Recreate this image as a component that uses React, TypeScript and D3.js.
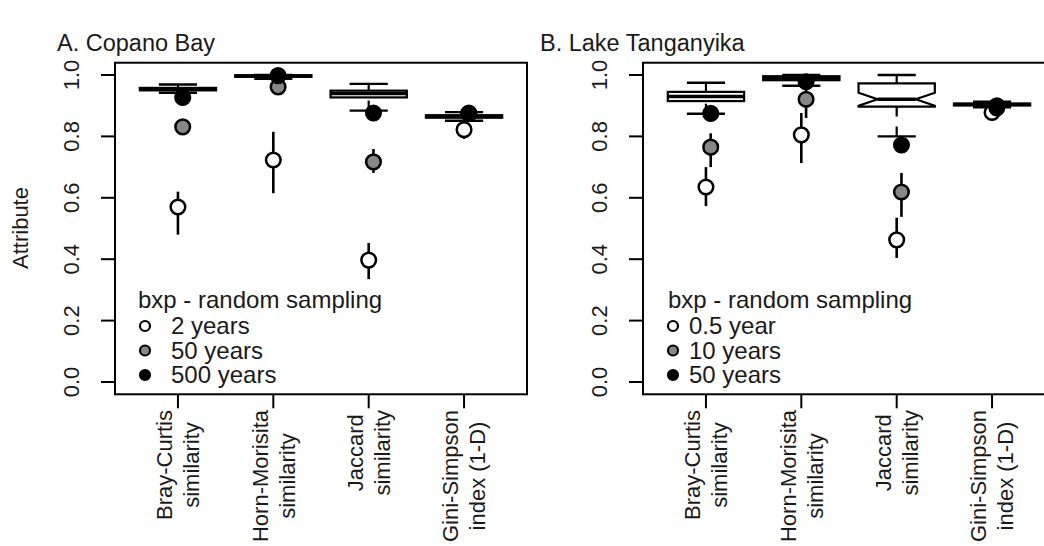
import React, { useEffect, useRef } from "react";
import * as d3 from "d3";

// ---------- data ----------
const categoryLine1 = ["Bray-Curtis", "Horn-Morisita", "Jaccard", "Gini-Simpson"];
const categoryLine2 = ["similarity", "similarity", "similarity", "index (1-D)"];
const yTicks = [0, 0.2, 0.4, 0.6, 0.8, 1.0];
const legendTitle = "bxp - random sampling";
const legendLabelsA = ["2 years", "50 years", "500 years"];
const legendLabelsB = ["0.5 year", "10 years", "50 years"];
const titleA = "A. Copano Bay";
const titleB = "B. Lake Tanganyika";
const yAxisTitle = "Attribute";

// Panel A boxplots (random sampling)
const boxA_lo = [0.942, 0.988, 0.884, 0.851];
const boxA_q1 = [0.950, 0.994, 0.927, 0.861];
const boxA_med = [0.954, 0.997, 0.940, 0.865];
const boxA_q3 = [0.958, 0.999, 0.949, 0.869];
const boxA_hi = [0.969, 1.0, 0.971, 0.879];
const boxA_notch = [0, 0, 0, 0];

// Panel B boxplots
const boxB_lo = [0.874, 0.965, 0.800, 0.895];
const boxB_q1 = [0.915, 0.983, 0.897, 0.901];
const boxB_med = [0.930, 0.990, 0.921, 0.904];
const boxB_q3 = [0.945, 0.996, 0.973, 0.907];
const boxB_hi = [0.975, 1.0, 1.0, 0.913];
const boxB_notch = [0, 0, 0.021, 0];

// Panel A time-averaged points (mean, lower, upper)
const whiteA = [0.570, 0.723, 0.397, 0.822];
const whiteA_lo = [0.480, 0.615, 0.335, 0.792];
const whiteA_hi = [0.620, 0.815, 0.453, 0.850];
const grayA = [0.831, 0.961, 0.717, 0.874];
const grayA_lo = [0.825, 0.955, 0.681, 0.869];
const grayA_hi = [0.838, 0.967, 0.759, 0.879];
const blackA = [0.927, 0.998, 0.876, 0.876];
const blackA_lo = [0.922, 0.995, 0.868, 0.872];
const blackA_hi = [0.932, 1.0, 0.884, 0.880];

// Panel B points
const whiteB = [0.635, 0.805, 0.463, 0.878];
const whiteB_lo = [0.573, 0.713, 0.404, 0.868];
const whiteB_hi = [0.700, 0.876, 0.535, 0.889];
const grayB = [0.765, 0.921, 0.619, 0.893];
const grayB_lo = [0.700, 0.860, 0.538, 0.888];
const grayB_hi = [0.810, 0.965, 0.681, 0.898];
const blackB = [0.875, 0.978, 0.772, 0.900];
const blackB_lo = [0.870, 0.972, 0.765, 0.896];
const blackB_hi = [0.880, 0.985, 0.780, 0.904];

const seriesFills = ["#ffffff", "#878787", "#000000"];
const seriesOffsets = [0, 0.05, 0.05];

const FONT = "'Liberation Sans', Arial, Helvetica, sans-serif";

export default function App() {
  const ref = useRef<SVGSVGElement | null>(null);

  useEffect(() => {
    const svg = d3.select(ref.current);
    svg.selectAll("*").remove();

    const panels = [
      {
        left: 115, title: titleA, titleX: 57, legendLabels: legendLabelsA,
        legTitleX: 138, legPtX: 145, legTextX: 171,
        box: [boxA_lo, boxA_q1, boxA_med, boxA_q3, boxA_hi, boxA_notch],
        series: [
          [whiteA, whiteA_lo, whiteA_hi],
          [grayA, grayA_lo, grayA_hi],
          [blackA, blackA_lo, blackA_hi],
        ],
        yTitle: true,
      },
      {
        left: 643, title: titleB, titleX: 540, legendLabels: legendLabelsB,
        legTitleX: 668, legPtX: 673, legTextX: 689,
        box: [boxB_lo, boxB_q1, boxB_med, boxB_q3, boxB_hi, boxB_notch],
        series: [
          [whiteB, whiteB_lo, whiteB_hi],
          [grayB, grayB_lo, grayB_hi],
          [blackB, blackB_lo, blackB_hi],
        ],
        yTitle: false,
      },
    ];

    const y = d3.scaleLinear().domain([0, 1]).range([382, 75]);
    const yTop = y(1.04);
    const yBot = y(-0.04);

    panels.forEach((p) => {
      const x = d3.scaleLinear().domain([0.34, 4.66]).range([p.left, p.left + 412]);
      const g = svg.append("g");

      // title
      g.append("text").attr("x", p.titleX).attr("y", 51).attr("font-size", 23.5)
        .attr("font-family", FONT).attr("fill", "#1a1a1a").text(p.title);

      // boxplots
      const [lo, q1, med, q3, hi, notch] = p.box;
      categoryLine1.forEach((_, i) => {
        const cx = x(i + 1);
        const hw = x(1.4) - x(1);
        const sw = x(1.2) - x(1);
        [[lo[i], q1[i]], [hi[i], q3[i]]].forEach(([a, b]) => {
          g.append("line").attr("x1", cx).attr("x2", cx).attr("y1", y(a)).attr("y2", y(b))
            .attr("stroke", "#000").attr("stroke-width", 2.2).attr("stroke-dasharray", "10,10");
        });
        [lo[i], hi[i]].forEach((v) => {
          g.append("line").attr("x1", cx - sw).attr("x2", cx + sw).attr("y1", y(v)).attr("y2", y(v))
            .attr("stroke", "#000").attr("stroke-width", 2.4);
        });
        if (notch[i] > 0) {
          const n = notch[i];
          const pts: [number, number][] = [
            [cx - hw, y(q1[i])], [cx - hw, y(med[i] - n)], [cx - hw * 0.5, y(med[i])],
            [cx - hw, y(med[i] + n)], [cx - hw, y(q3[i])], [cx + hw, y(q3[i])],
            [cx + hw, y(med[i] + n)], [cx + hw * 0.5, y(med[i])], [cx + hw, y(med[i] - n)],
            [cx + hw, y(q1[i])],
          ];
          g.append("polygon").attr("points", pts.map((d) => d.join(",")).join(" "))
            .attr("fill", "#fff").attr("stroke", "#000").attr("stroke-width", 2.2);
          g.append("line").attr("x1", cx - hw * 0.5).attr("x2", cx + hw * 0.5)
            .attr("y1", y(med[i])).attr("y2", y(med[i])).attr("stroke", "#000").attr("stroke-width", 3.5);
        } else {
          g.append("rect").attr("x", cx - hw).attr("width", 2 * hw)
            .attr("y", y(q3[i])).attr("height", Math.max(0.5, y(q1[i]) - y(q3[i])))
            .attr("fill", "#fff").attr("stroke", "#000").attr("stroke-width", 2.2);
          g.append("line").attr("x1", cx - hw).attr("x2", cx + hw)
            .attr("y1", y(med[i])).attr("y2", y(med[i])).attr("stroke", "#000").attr("stroke-width", 3.5);
        }
      });

      // points with error bars
      p.series.forEach(([m, l, h], s) => {
        categoryLine1.forEach((_, i) => {
          const cx = x(i + 1 + seriesOffsets[s]);
          g.append("line").attr("x1", cx).attr("x2", cx).attr("y1", y(l[i])).attr("y2", y(h[i]))
            .attr("stroke", "#000").attr("stroke-width", 2.6);
          g.append("circle").attr("cx", cx).attr("cy", y(m[i])).attr("r", 7.3)
            .attr("fill", seriesFills[s]).attr("stroke", "#000").attr("stroke-width", 2.5);
        });
      });

      // frame
      g.append("rect").attr("x", x(0.34)).attr("y", yTop).attr("width", x(4.66) - x(0.34))
        .attr("height", yBot - yTop).attr("fill", "none").attr("stroke", "#000").attr("stroke-width", 2);

      // y axis
      yTicks.forEach((t) => {
        g.append("line").attr("x1", p.left - 14).attr("x2", p.left).attr("y1", y(t)).attr("y2", y(t))
          .attr("stroke", "#000").attr("stroke-width", 2);
        g.append("text").attr("transform", `translate(${p.left - 44},${y(t)}) rotate(-90)`)
          .attr("text-anchor", "middle").attr("dy", "0.36em").attr("font-size", 22)
          .attr("font-family", FONT).attr("fill", "#1a1a1a").text(t.toFixed(1));
      });

      // x axis ticks & labels
      categoryLine1.forEach((l1, i) => {
        const cx = x(i + 1);
        g.append("line").attr("x1", cx).attr("x2", cx).attr("y1", yBot).attr("y2", yBot + 14)
          .attr("stroke", "#000").attr("stroke-width", 2);
        const lines = [l1, categoryLine2[i]];
        const nodes = lines.map((t) =>
          g.append("text").attr("font-size", 22).attr("font-family", FONT).attr("fill", "#1a1a1a")
            .attr("text-anchor", "middle").attr("dy", "0.36em").text(t)
        );
        const widths = nodes.map((n) => (n.node() as SVGTextElement).getComputedTextLength());
        const W = Math.max(...widths);
        const cy = 410 + W / 2;
        nodes.forEach((n, k) => {
          const lx = cx + (k === 0 ? -13.5 : 13.5);
          n.attr("transform", `translate(${lx},${cy}) rotate(-90)`);
        });
      });

      // y title
      if (p.yTitle) {
        g.append("text").attr("transform", `translate(20,228) rotate(-90)`).attr("text-anchor", "middle")
          .attr("dy", "0.36em").attr("font-size", 22).attr("font-family", FONT).attr("fill", "#1a1a1a")
          .text(yAxisTitle);
      }

      // legend
      g.append("text").attr("x", p.legTitleX).attr("y", 308).attr("font-size", 24)
        .attr("font-family", FONT).attr("fill", "#1a1a1a").text(legendTitle);
      const rowBase = [334, 358.5, 383];
      p.legendLabels.forEach((lab, k) => {
        g.append("circle").attr("cx", p.legPtX).attr("cy", rowBase[k] - 8).attr("r", 5)
          .attr("fill", seriesFills[k]).attr("stroke", "#000").attr("stroke-width", 2.2);
        g.append("text").attr("x", p.legTextX).attr("y", rowBase[k]).attr("font-size", 24)
          .attr("font-family", FONT).attr("fill", "#1a1a1a").text(lab);
      });
    });
  }, []);

  return (
    <svg
      ref={ref}
      width={1044}
      height={546}
      style={{ position: "absolute", left: 0, top: 0, background: "#fff" }}
    />
  );
}
